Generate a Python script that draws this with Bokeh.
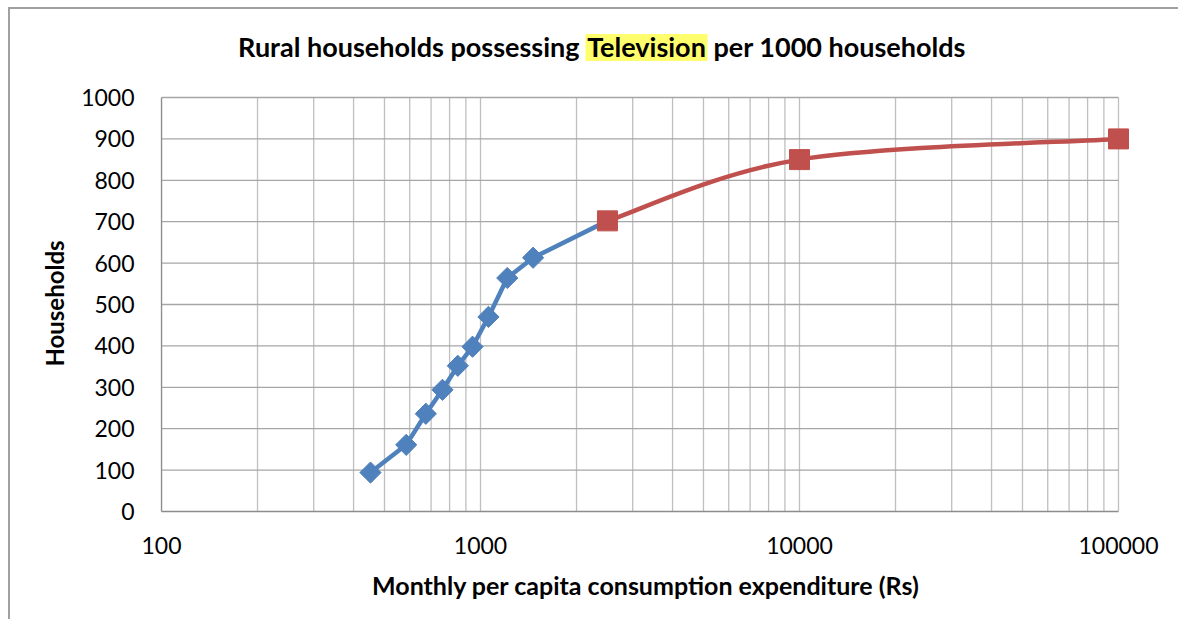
import numpy as np
from bokeh.plotting import figure
from bokeh.layouts import column
from bokeh.models import FixedTicker, Range1d
from bokeh.embed import file_html
from bokeh.resources import INLINE
from bokeh.core.properties import value

# ---- data ----
blue_x = [452, 585, 674, 760, 849, 944, 1059, 1213, 1462, 2500]
blue_y = [94, 161, 236, 294, 352, 398, 470, 564, 613, 702]
red_x = [2500, 10000, 100000]
red_y = [702, 850, 900]
x_major = [100, 1000, 10000, 100000]
x_minor = [m * d for d in (100, 1000, 10000) for m in range(2, 10)]
y_ticks = list(range(0, 1001, 100))
title_parts = ["Rural households possessing", "Television", "per 1000 households"]
x_title = "Monthly per capita consumption expenditure (Rs)"
y_title = "Households"

FONT = "Lato"
BLUE = "#4F81BD"
RED = "#C0504D"
BORDER = "#a0a0a0"
W = 1168
FRAME_LEFT = 151  # title strip frame is aligned with the chart frame

# ---------------- title strip ----------------
tf = figure(
    frame_width=W, frame_height=60,
    x_range=Range1d(0, W), y_range=Range1d(0, 60),
    x_axis_location=None, y_axis_location=None,
    min_border=0, output_backend="svg", toolbar_location=None,
    background_fill_color="white", border_fill_color="white",
)
tf.grid.visible = False
tf.outline_line_color = None
ty = 23
cx = 636 - FRAME_LEFT
tf.rect(x=[cx], y=[ty - 1], width=[122], height=[27], fill_color="#ffff6e",
        line_color=None)
tf.text(x=[cx - 67], y=[ty], text=[title_parts[0]], text_align="right",
        text_baseline="middle", text_font=value(FONT), text_font_style="bold",
        text_font_size="27px", text_color="black")
tf.text(x=[cx], y=[ty], text=[title_parts[1]], text_align="center",
        text_baseline="middle", text_font=value(FONT), text_font_style="bold",
        text_font_size="27px", text_color="black")
tf.text(x=[cx + 67], y=[ty], text=[title_parts[2]], text_align="left",
        text_baseline="middle", text_font=value(FONT), text_font_style="bold",
        text_font_size="27px", text_color="black")

# ---------------- main chart ----------------
x_end = 10 ** (5 + 12 / 319)
y_end = 1000 + 2 / 0.4138
p = figure(
    x_axis_type="log",
    x_range=Range1d(100, x_end),
    y_range=Range1d(0, y_end),
    frame_width=969,
    frame_height=416,
    min_border_left=FRAME_LEFT,
    min_border_top=26,
    min_border_right=48,
    min_border_bottom=108,
    output_backend="svg",
    toolbar_location=None,
    background_fill_color="white",
    border_fill_color="white",
)
p.outline_line_color = None
p.grid.visible = False

# axes
p.xaxis.ticker = FixedTicker(ticks=x_major, minor_ticks=x_minor)
p.yaxis.ticker = FixedTicker(ticks=y_ticks)
p.xaxis.major_label_overrides = {t: str(t) for t in x_major}
p.xaxis.bounds = (x_major[0], x_major[-1])
p.yaxis.bounds = (y_ticks[0], y_ticks[-1])
for ax in (p.xaxis, p.yaxis):
    ax.axis_line_color = "#8c8c8c"
    ax.axis_line_width = 1.3
    ax.major_tick_line_color = None
    ax.minor_tick_line_color = None
    ax.major_label_text_font = FONT
    ax.major_label_text_font_size = "23px"
    ax.major_label_text_color = "black"
    ax.axis_label_text_font = FONT
    ax.axis_label_text_font_style = "bold"
    ax.axis_label_text_color = "black"
p.xaxis.axis_label_text_font_size = "25px"
p.yaxis.axis_label_text_font_size = "24px"
p.xaxis.axis_label = x_title
p.yaxis.axis_label = y_title
p.xaxis.major_label_standoff = 19
p.yaxis.major_label_standoff = 21
p.xaxis.axis_label_standoff = 13
p.yaxis.axis_label_standoff = 9

# grid lines (drawn as segments so they stop at the axis limits)
vx = x_major + x_minor
p.segment(x0=vx, y0=[y_ticks[0]] * len(vx), x1=vx, y1=[y_ticks[-1]] * len(vx),
          line_color="#bfbfbf", line_width=1.3)
hy = y_ticks[1:]
p.segment(x0=[x_major[0]] * len(hy), y0=hy, x1=[x_major[-1]] * len(hy), y1=hy,
          line_color="#a6a6a6", line_width=1.3)

# blue series (straight segments)
p.line(blue_x, blue_y, line_color=BLUE, line_width=4.5)
p.scatter(blue_x[:-1], blue_y[:-1], marker="square", angle=np.pi / 4, size=15,
          fill_color=BLUE, line_color=BLUE)

# red series (smoothed, Catmull-Rom style bezier in log-x space)
lx = np.log10(np.array(red_x, float))
ly = np.array(red_y, float)
n = len(lx)
x0, y0, x1, y1, cx0, cy0, cx1, cy1 = [], [], [], [], [], [], [], []
for i in range(n - 1):
    ip = i - 1 if i > 0 else i
    inx = i + 2 if i + 2 < n else i + 1
    x0.append(red_x[i]); y0.append(red_y[i])
    x1.append(red_x[i + 1]); y1.append(red_y[i + 1])
    cx0.append(10 ** (lx[i] + (lx[i + 1] - lx[ip]) / 6))
    cy0.append(ly[i] + (ly[i + 1] - ly[ip]) / 6)
    cx1.append(10 ** (lx[i + 1] - (lx[inx] - lx[i]) / 6))
    cy1.append(ly[i + 1] - (ly[inx] - ly[i]) / 6)
p.bezier(x0=x0, y0=y0, x1=x1, y1=y1, cx0=cx0, cy0=cy0, cx1=cx1, cy1=cy1,
         line_color=RED, line_width=4.5)
p.scatter(red_x, red_y, marker="square", size=20, fill_color=RED, line_color=RED)

layout = column(tf, p, spacing=0, margin=(7, 0, 0, 8),
                styles={"border-left": f"2px solid {BORDER}",
                        "border-top": f"2px solid {BORDER}"})

open("out.html", "w").write(file_html(layout, INLINE))
